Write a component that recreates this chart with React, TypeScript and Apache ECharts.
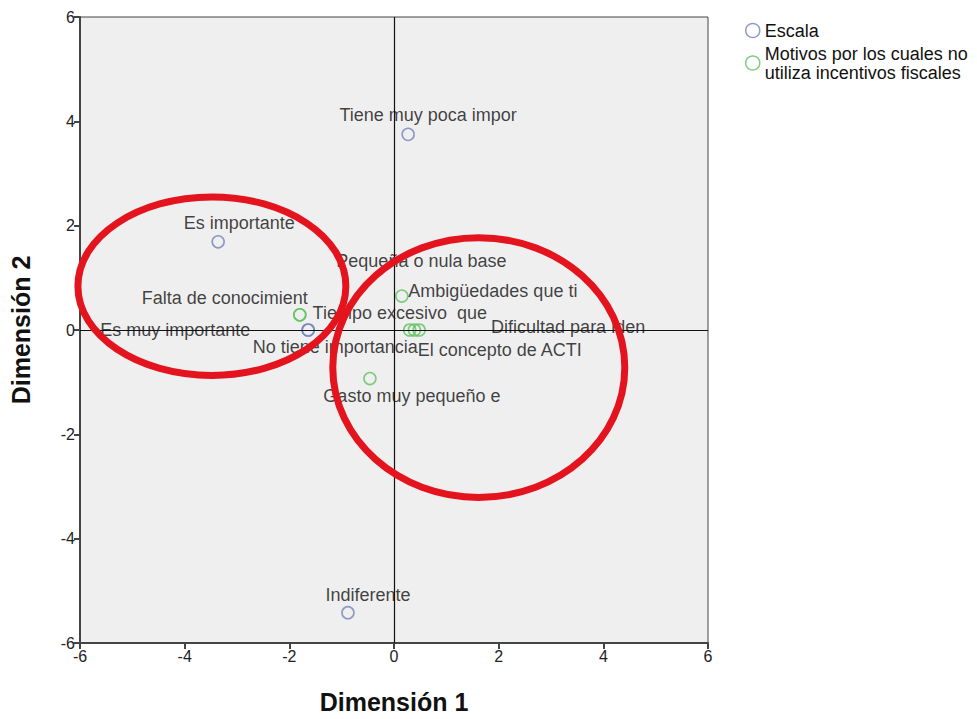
import React, { useEffect, useRef } from "react";
import * as echarts from "echarts";

// Escala (blue) points: [dim1, dim2]
const escalaNames = ["Tiene muy poca impor", "Es importante", "Es muy importante", "No tiene importancia", "Indiferente"];
const escalaValues: [number, number][] = [
  [0.27, 3.75],
  [-3.36, 1.69],
  [-1.64, 0.0],
  [-1.64, 0.0],
  [-0.88, -5.42],
];
// label offsets (pixels, centre of label relative to point)
const escalaLabelOffsets: [number, number][] = [
  [20, -19],
  [21, -19],
  [-133, 0],
  [27, 17],
  [20, -18],
];

// Motivos (green) points
const motivosNames = [
  "Falta de conocimient",
  "Tiempo excesivo  que",
  "Pequeña o nula base",
  "Ambigüedades que ti",
  "Dificultad para iden",
  "El concepto de ACTI",
  "Gasto muy pequeño e",
];
const motivosValues: [number, number][] = [
  [-1.8, 0.29],
  [-1.8, 0.29],
  [0.39, 0.0],
  [0.15, 0.65],
  [0.48, 0.0],
  [0.3, 0.0],
  [-0.46, -0.93],
];
const motivosLabelOffsets: [number, number][] = [
  [-75, -17],
  [100, -2],
  [7, -69],
  [91, -5],
  [149, -3],
  [90, 20],
  [42, 17],
];

// Red annotation ellipses: [cx, cy, rx, ry] in data units
const ellipses: [number, number, number, number][] = [
  [-3.48, 0.84, 2.56, 1.71],
  [1.62, -0.72, 2.79, 2.49],
];

const xTicks = { min: -6, max: 6, interval: 2 };
const yTicks = { min: -6, max: 6, interval: 2 };

const legendNames = ["Escala", "Motivos por los cuales no\nutiliza incentivos fiscales"];

const FONT = "'Liberation Sans', Arial, sans-serif";
const BLUE = "#7383bb";
const GREEN = "#5fc25f";
const RED = "#e3141e";

export default function App() {
  const ref = useRef<HTMLDivElement>(null);
  useEffect(() => {
    if (!ref.current) return;
    const chart = echarts.init(ref.current, undefined, { renderer: "svg" });
    const mkData = (names: string[], vals: [number, number][], offs: [number, number][]) =>
      vals.map((v, i) => ({
        name: names[i],
        value: v,
        label: { offset: offs[i] },
      }));
    const labelBase = {
      show: true,
      position: "inside",
      formatter: (p: any) => p.name,
      color: "#111",
      fontSize: 18,
      fontFamily: FONT,
      align: "center",
      verticalAlign: "middle",
    };
    chart.setOption({
      animation: false,
      backgroundColor: "#ffffff",
      textStyle: { fontFamily: FONT },
      grid: {
        left: 80,
        top: 17,
        width: 628,
        height: 631,
        show: true,
        backgroundColor: "#efefef",
        borderColor: "#444",
        borderWidth: 1,
      },
      legend: {
        orient: "vertical",
        left: 740,
        top: 16,
        itemWidth: 14,
        itemHeight: 14,
        itemGap: 4,
        icon: "circle",
        textStyle: { fontSize: 18, lineHeight: 19, color: "#111", fontFamily: FONT },
        data: [
          { name: legendNames[0], itemStyle: { color: "rgba(0,0,0,0)", borderColor: BLUE, borderWidth: 1.5 } },
          { name: legendNames[1], itemStyle: { color: "rgba(0,0,0,0)", borderColor: GREEN, borderWidth: 1.5 } },
        ],
      },
      xAxis: {
        type: "value",
        min: xTicks.min,
        max: xTicks.max,
        interval: xTicks.interval,
        name: "Dimensión 1",
        nameLocation: "middle",
        nameGap: 46,
        nameTextStyle: { fontSize: 25, fontWeight: "bold", color: "#111", fontFamily: FONT },
        axisLine: { onZero: false, lineStyle: { color: "#444", width: 2 } },
        axisTick: { show: true, inside: false, length: 6, lineStyle: { color: "#444", width: 2 } },
        axisLabel: { fontSize: 16, color: "#222", margin: 5, fontFamily: FONT },
        splitLine: { show: false },
      },
      yAxis: {
        type: "value",
        min: yTicks.min,
        max: yTicks.max,
        interval: yTicks.interval,
        name: "Dimensión 2",
        nameLocation: "middle",
        nameGap: 47,
        nameTextStyle: { fontSize: 25, fontWeight: "bold", color: "#111", fontFamily: FONT },
        axisLine: { onZero: false, lineStyle: { color: "#444", width: 2 } },
        axisTick: { show: true, inside: false, length: 6, lineStyle: { color: "#444", width: 2 } },
        axisLabel: { fontSize: 16, color: "#222", margin: 5, fontFamily: FONT },
        splitLine: { show: false },
      },
      series: [
        {
          name: legendNames[0],
          type: "scatter",
          z: 3,
          symbol: "circle",
          symbolSize: 12,
          itemStyle: { color: "rgba(0,0,0,0)", borderColor: BLUE, borderWidth: 1.6 },
          label: labelBase,
          data: mkData(escalaNames, escalaValues, escalaLabelOffsets),
          markLine: {
            silent: true,
            symbol: "none",
            label: { show: false },
            lineStyle: { color: "#111", width: 1.2, type: "solid" },
            data: [{ xAxis: 0 }, { yAxis: 0 }],
          },
        },
        {
          name: legendNames[1],
          type: "scatter",
          z: 3,
          symbol: "circle",
          symbolSize: 12,
          itemStyle: { color: "rgba(0,0,0,0)", borderColor: GREEN, borderWidth: 1.6 },
          label: labelBase,
          data: mkData(motivosNames, motivosValues, motivosLabelOffsets),
        },
        {
          name: "ellipses",
          type: "custom",
          z: 10,
          silent: true,
          clip: false,
          encode: { x: 0, y: 1 },
          data: ellipses,
          renderItem: (params: any, api: any) => {
            const c = api.coord([api.value(0), api.value(1)]);
            const s = api.size([api.value(2), api.value(3)]);
            return {
              type: "ellipse",
              shape: { cx: c[0], cy: c[1], rx: s[0], ry: s[1] },
              style: { fill: "none", stroke: RED, lineWidth: 7 },
              z2: 100,
            };
          },
        },
      ],
    });
    return () => chart.dispose();
  }, []);
  return <div ref={ref} style={{ position: "fixed", left: 0, top: 0, width: 977, height: 719 }} />;
}
